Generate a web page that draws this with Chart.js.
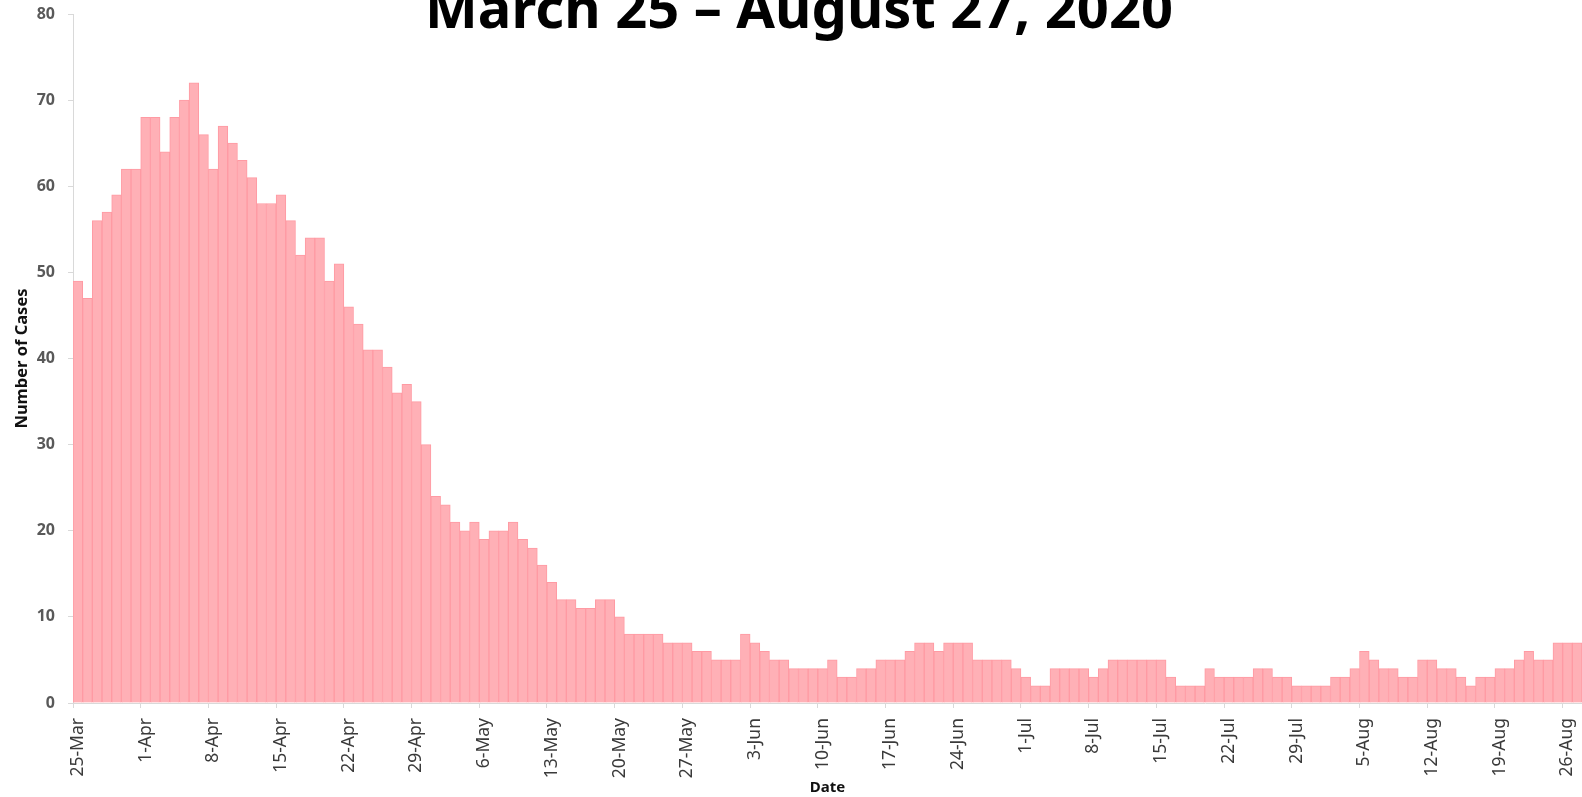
<!DOCTYPE html>
<html lang="en">
<head>
  <meta charset="UTF-8" />
  <title>Daily cases, March 25 – August 27, 2020</title>
  <script src="https://cdn.jsdelivr.net/npm/chart.js"></script>
  <style>
    html, body { margin: 0; padding: 0; background: #fff; overflow: hidden; }
    #wrap { position: relative; width: 1582px; height: 797px; }
    #title {
      position: absolute; left: 8px; right: -8px; top: -22px;
      text-align: center; font-family: "Noto Sans", sans-serif;
      font-weight: bold; font-size: 56px; line-height: 56px; color: #000;
      white-space: nowrap; z-index: 2;
    }
  </style>
</head>
<body>
  <div id="wrap">
    <div id="title">March 25 – August 27, 2020</div>
    <canvas id="casesChart"></canvas>
  </div>

  <script>
    // one label per day, 25-Mar to 27-Aug
    const dates = [
      '25-Mar','26-Mar','27-Mar','28-Mar','29-Mar','30-Mar','31-Mar',
      '1-Apr','2-Apr','3-Apr','4-Apr','5-Apr','6-Apr','7-Apr','8-Apr','9-Apr','10-Apr',
      '11-Apr','12-Apr','13-Apr','14-Apr','15-Apr','16-Apr','17-Apr','18-Apr','19-Apr','20-Apr',
      '21-Apr','22-Apr','23-Apr','24-Apr','25-Apr','26-Apr','27-Apr','28-Apr','29-Apr','30-Apr',
      '1-May','2-May','3-May','4-May','5-May','6-May','7-May','8-May','9-May','10-May',
      '11-May','12-May','13-May','14-May','15-May','16-May','17-May','18-May','19-May','20-May',
      '21-May','22-May','23-May','24-May','25-May','26-May','27-May','28-May','29-May','30-May','31-May',
      '1-Jun','2-Jun','3-Jun','4-Jun','5-Jun','6-Jun','7-Jun','8-Jun','9-Jun','10-Jun',
      '11-Jun','12-Jun','13-Jun','14-Jun','15-Jun','16-Jun','17-Jun','18-Jun','19-Jun','20-Jun',
      '21-Jun','22-Jun','23-Jun','24-Jun','25-Jun','26-Jun','27-Jun','28-Jun','29-Jun','30-Jun',
      '1-Jul','2-Jul','3-Jul','4-Jul','5-Jul','6-Jul','7-Jul','8-Jul','9-Jul','10-Jul',
      '11-Jul','12-Jul','13-Jul','14-Jul','15-Jul','16-Jul','17-Jul','18-Jul','19-Jul','20-Jul',
      '21-Jul','22-Jul','23-Jul','24-Jul','25-Jul','26-Jul','27-Jul','28-Jul','29-Jul','30-Jul','31-Jul',
      '1-Aug','2-Aug','3-Aug','4-Aug','5-Aug','6-Aug','7-Aug','8-Aug','9-Aug','10-Aug',
      '11-Aug','12-Aug','13-Aug','14-Aug','15-Aug','16-Aug','17-Aug','18-Aug','19-Aug','20-Aug',
      '21-Aug','22-Aug','23-Aug','24-Aug','25-Aug','26-Aug','27-Aug'
    ];

    // daily number of cases
    const cases = [
      49,47,56,57,59,62,62,
      68,68,64,68,70,72,66, 62,67,65,63,61,58,58, 59,56,52,54,54,49,51, 46,44,41,41,39,36,37, 35,30,
      24,23,21,20,21, 19,20,20,21,19,18,16, 14,12,12,11,11,12,12, 10,8,8,8,8,7,7, 7,6,6,5,5,
      5,8,7,6,5,5,4, 4,4,4,5,3,3,4, 4,5,5,5,6,7,7, 6,7,7,7,5,5,5, 5,4,
      3,2,2,4,4,4,4, 3,4,5,5,5,5,5, 5,3,2,2,2,4,3, 3,3,3,4,4,3,3, 2,2,2,
      2,3,3,4,6,5,4, 4,3,3,5,5,4,4, 3,2,3,3,4,4,5, 6,5,5,7,7,7
    ];

    const yTicks = [0, 10, 20, 30, 40, 50, 60, 70, 80];
    const labelEvery = 7;

    window.onload = function () {
      const ctx = document.getElementById('casesChart').getContext('2d');
      const axisGray = '#d9d9d9';

      new Chart(ctx, {
        type: 'bar',
        data: {
          labels: dates,
          datasets: [{
            label: 'Number of Cases',
            data: cases,
            backgroundColor: '#ffb0b6',
            borderColor: '#ff9aa3',
            borderWidth: 1,
            categoryPercentage: 1.0,
            barPercentage: 1.0
          }]
        },
        options: {
          responsive: true,
          maintainAspectRatio: false,
          animation: false,
          layout: { padding: { top: 14, right: 0, left: 0, bottom: 0 } },
          plugins: {
            legend: { display: false },
            tooltip: { enabled: false }
          },
          scales: {
            x: {
              offset: true,
              grid: {
                offset: true,
                drawOnChartArea: false,
                tickLength: 5,
                color: (c) => (c.index % labelEvery === 0 ? axisGray : 'rgba(0,0,0,0)')
              },
              border: { color: axisGray },
              ticks: {
                autoSkip: false,
                minRotation: 90,
                maxRotation: 90,
                padding: 10,
                color: '#3a3a3a',
                font: { family: 'Noto Sans', size: 17.5 },
                callback: (v, i) => (i % labelEvery === 0 ? dates[i] : '')
              },
              title: {
                display: true,
                text: 'Date',
                color: '#111',
                font: { family: 'Noto Sans', size: 15, weight: 'bold' },
                padding: { top: 0, bottom: 0 }
              },
              afterFit: (s) => { s.height = 94; s.paddingLeft = 0; s.paddingRight = 0; }
            },
            y: {
              min: 0,
              max: 80,
              afterBuildTicks: (s) => { s.ticks = yTicks.map(v => ({ value: v })); },
              grid: { drawOnChartArea: false, tickLength: 5, color: axisGray },
              border: { color: axisGray },
              ticks: {
                padding: 13,
                color: '#595959',
                font: { family: 'Noto Sans', size: 16, weight: 'bold' }
              },
              title: {
                display: true,
                text: 'Number of Cases',
                color: '#111',
                font: { family: 'Noto Sans', size: 16.5, weight: 'bold' },
                padding: { top: 12, bottom: 0 }
              },
              afterFit: (s) => { s.width = 73; s.paddingTop = 0; s.paddingBottom = 0; }
            }
          }
        }
      });
    };
  </script>
</body>
</html>
